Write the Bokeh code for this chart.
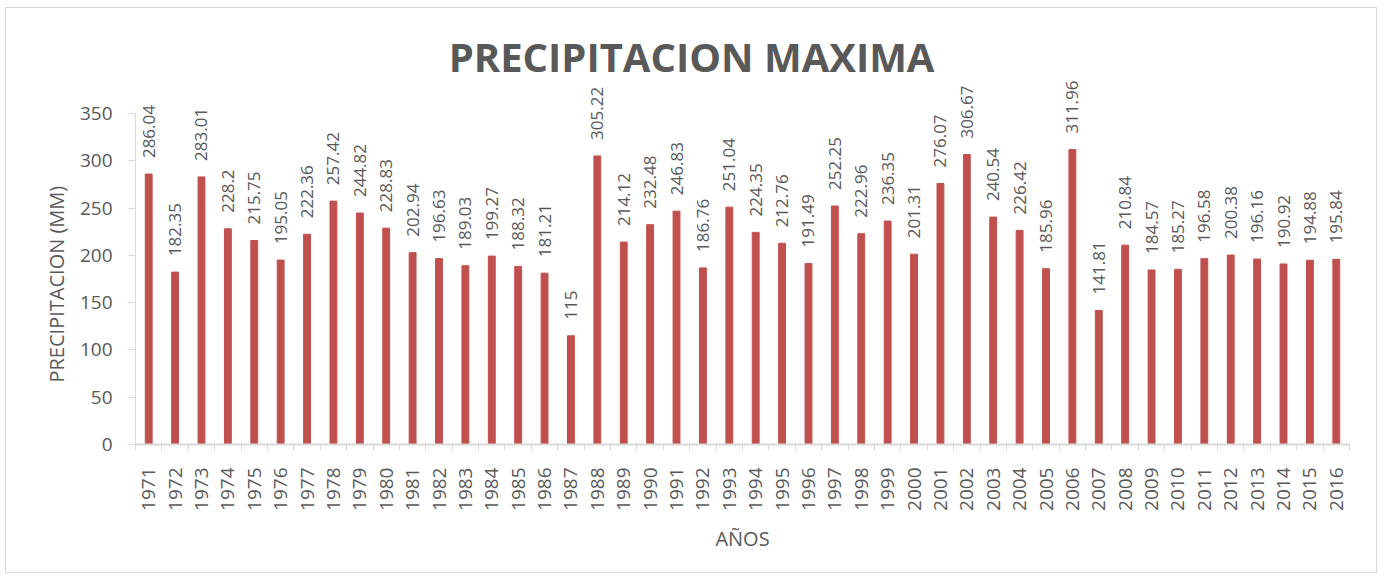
import math
from bokeh.plotting import figure
from bokeh.models import ColumnDataSource, Range1d, FixedTicker, LabelSet, Label, Title
from bokeh.core.properties import value
from bokeh.embed import file_html
from bokeh.resources import INLINE

years = list(range(1971, 2017))
values = [286.04, 182.35, 283.01, 228.2, 215.75, 195.05, 222.36, 257.42, 244.82, 228.83,
          202.94, 196.63, 189.03, 199.27, 188.32, 181.21, 115, 305.22, 214.12, 232.48,
          246.83, 186.76, 251.04, 224.35, 212.76, 191.49, 252.25, 222.96, 236.35, 201.31,
          276.07, 306.67, 240.54, 226.42, 185.96, 311.96, 141.81, 210.84, 184.57, 185.27,
          196.58, 200.38, 196.16, 190.92, 194.88, 195.84]
y_ticks = [0, 50, 100, 150, 200, 250, 300, 350]
title_text = "PRECIPITACION MAXIMA"
x_title = "AÑOS"
y_title = "PRECIPITACION (MM)"

labels = [f"{v:g}" for v in values]
src = ColumnDataSource(dict(year=years, value=values, label=labels))

FONT = "Open Sans"
TXT = "#595959"
AX = "#D9D9D9"

x_start = years[0] - 0.5
p = figure(width=1372, height=566, output_backend="svg", toolbar_location=None,
           x_range=Range1d(x_start, years[-1] + 0.5), y_range=Range1d(0, 440),
           min_border_left=129, min_border_right=29, min_border_top=20, min_border_bottom=130)
p.styles = {"border": "1px solid #D9D9D9", "margin": "7px 0 0 5px"}
p.outline_line_color = None
p.xgrid.visible = False
p.ygrid.visible = False

p.vbar(x="year", top="value", width=0.26, source=src, color="#C0504D")

ls = LabelSet(x="year", y="value", text="label", source=src, angle=math.pi / 2,
              text_align="left", text_baseline="middle", y_offset=16,
              text_font=value(FONT), text_font_size=value("17px"), text_color=value(TXT))
p.add_layout(ls)

# x axis
xa = p.xaxis[0]
xa.ticker = FixedTicker(ticks=years, minor_ticks=[y - 0.5 for y in years] + [years[-1] + 0.5])
xa.major_label_orientation = math.pi / 2
xa.major_tick_out = 0
xa.major_tick_in = 0
xa.minor_tick_out = 6
xa.minor_tick_in = 0
xa.minor_tick_line_color = AX
xa.axis_line_color = AX
xa.axis_line_width = 2
xa.major_label_standoff = 17
xa.major_label_text_font = FONT
xa.major_label_text_font_size = "19px"
xa.major_label_text_color = TXT
xa.axis_label = x_title
xa.axis_label_text_font = FONT
xa.axis_label_text_font_style = "normal"
xa.axis_label_text_font_size = "20px"
xa.axis_label_text_color = TXT
xa.axis_label_standoff = 11

# y axis, limited to the tick span
ya = p.yaxis[0]
ya.ticker = FixedTicker(ticks=y_ticks)
ya.bounds = (y_ticks[0], y_ticks[-1])
ya.major_tick_out = 7
ya.major_tick_in = 0
ya.minor_tick_out = 0
ya.minor_tick_in = 0
ya.major_tick_line_color = AX
ya.axis_line_color = AX
ya.axis_line_width = 1
ya.major_label_standoff = 16
ya.major_label_text_font = FONT
ya.major_label_text_font_size = "19px"
ya.major_label_text_color = TXT

# y axis title, centred on the 0-350 span
ytitle = Title(text=y_title, align="left", offset=62, standoff=14,
               text_font=FONT, text_font_size="20px", text_font_style="normal", text_color=TXT)
p.add_layout(ytitle, "left")

title = Label(x=1991.57, y=410, text=title_text, text_align="center", text_baseline="middle",
              text_font=FONT, text_font_size="40px", text_font_style="bold", text_color=TXT)
p.add_layout(title)

open("out.html", "w").write(file_html(p, INLINE))
